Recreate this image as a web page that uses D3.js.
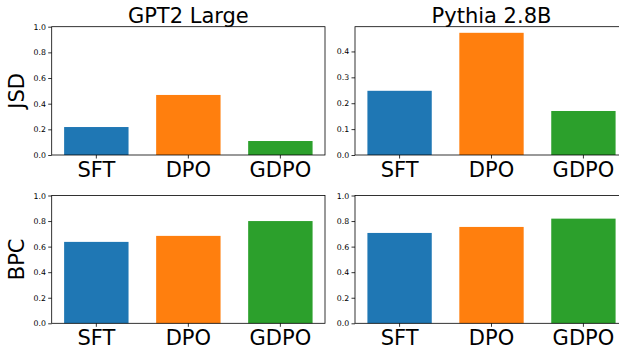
<!DOCTYPE html>
<html><head><meta charset="utf-8">
<script src="https://cdn.jsdelivr.net/npm/d3@7"></script>
<style>body{margin:0;background:#fff;overflow:hidden}svg{display:block}text{font-family:"DejaVu Sans",sans-serif;fill:#000}</style>
</head><body><svg id="c" width="619" height="352"></svg>
<script>
const categories = ["SFT", "DPO", "GDPO"];
const colors = ["#1f77b4", "#ff7f0e", "#2ca02c"];
const modelTitles = ["GPT2 Large", "Pythia 2.8B"];
const metricLabels = ["JSD", "BPC"];
const gpt2Jsd = [0.218, 0.468, 0.109];
const pythiaJsd = [0.248, 0.472, 0.170];
const gpt2Bpc = [0.637, 0.684, 0.800];
const pythiaBpc = [0.707, 0.754, 0.819];
const ticksUnit = [0, 0.2, 0.4, 0.6, 0.8, 1.0];
const ticksPythiaJsd = [0, 0.1, 0.2, 0.3, 0.4];

const svg = d3.select("#c");
const cols = [[51.7, 325], [355, 628]];
const rows = [[26.7, 155], [195.5, 323.3]];

const panels = [
  {r:0, c:0, values:gpt2Jsd, ymax:1.0, ticks:ticksUnit, title:modelTitles[0], ylabel:metricLabels[0]},
  {r:0, c:1, values:pythiaJsd, ymax:d3.max(pythiaJsd)*1.05, ticks:ticksPythiaJsd, title:modelTitles[1]},
  {r:1, c:0, values:gpt2Bpc, ymax:1.0, ticks:ticksUnit, ylabel:metricLabels[1]},
  {r:1, c:1, values:pythiaBpc, ymax:1.0, ticks:ticksUnit},
];

panels.forEach(p => {
  const [x0, x1] = cols[p.c];
  const [y0, y1] = rows[p.r];
  const x = d3.scaleBand().domain(categories).range([x0, x1]).paddingInner(0.3).paddingOuter(0.135);
  const y = d3.scaleLinear().domain([0, p.ymax]).range([y1, y0]);
  const g = svg.append("g");
  g.selectAll("rect.bar").data(p.values).join("rect")
    .attr("x", (d,i) => x(categories[i]))
    .attr("width", x.bandwidth())
    .attr("y", d => y(d))
    .attr("height", d => y(0) - y(d))
    .attr("fill", (d,i) => colors[i]);
  // spines
  g.append("rect").attr("x", x0).attr("y", y0).attr("width", x1-x0).attr("height", y1-y0)
    .attr("fill", "none").attr("stroke", "#000").attr("stroke-width", 0.8);
  // y axis
  const ya = d3.axisLeft(y).tickValues(p.ticks).tickFormat(d3.format(".1f")).tickSize(3.5).tickPadding(2.3);
  const yg = g.append("g").attr("transform", `translate(${x0},0)`).call(ya);
  yg.select(".domain").remove();
  yg.selectAll("line").attr("stroke", "#000").attr("stroke-width", 0.8);
  yg.selectAll("text").style("font-family", '"DejaVu Sans"').style("font-size", "7.8px").attr("fill", "#000");
  // x axis
  const xa = d3.axisBottom(x).tickSize(3.5).tickPadding(3.2);
  const xg = g.append("g").attr("transform", `translate(0,${y1})`).call(xa);
  xg.select(".domain").remove();
  xg.selectAll("line").attr("stroke", "#000").attr("stroke-width", 0.8);
  xg.selectAll("text").style("font-family", '"DejaVu Sans"').style("font-size", "21px").attr("fill", "#000");
  if (p.title) {
    g.append("text").attr("x", (x0+x1)/2).attr("y", y0 - 4.2)
      .attr("text-anchor", "middle").style("font-size", "21px").text(p.title);
  }
  if (p.ylabel) {
    g.append("text").attr("transform", `translate(24,${(y0+y1)/2}) rotate(-90)`)
      .attr("text-anchor", "middle").style("font-size", "21px").text(p.ylabel);
  }
});
</script></body></html>
